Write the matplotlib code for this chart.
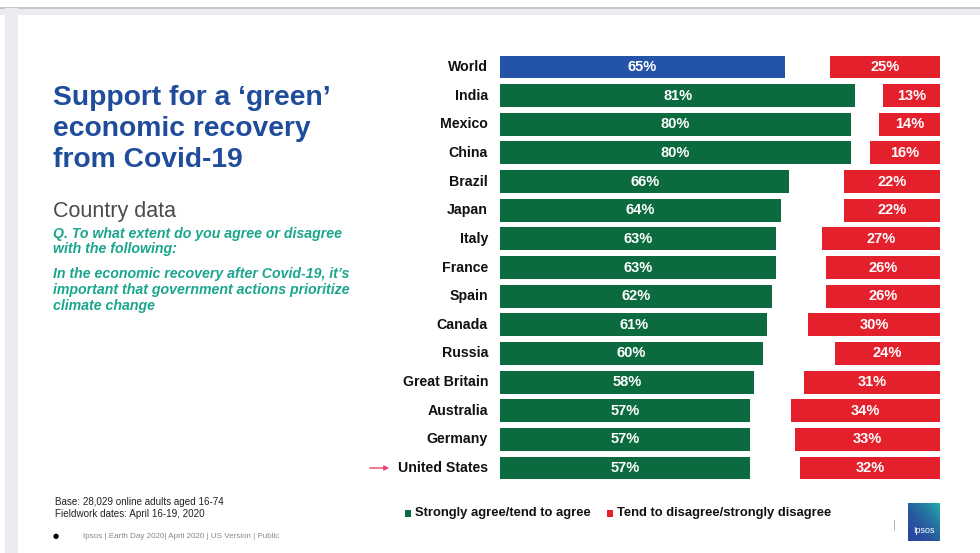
import numpy as np
import matplotlib
matplotlib.use("Agg")
from matplotlib import pyplot as plt
from matplotlib.patches import Rectangle, FancyArrowPatch

countries = ["World", "India", "Mexico", "China", "Brazil", "Japan", "Italy",
             "France", "Spain", "Canada", "Russia", "Great Britain",
             "Australia", "Germany", "United States"]
agree = [65, 81, 80, 80, 66, 64, 63, 63, 62, 61, 60, 58, 57, 57, 57]
disagree = [25, 13, 14, 16, 22, 22, 27, 26, 26, 30, 24, 31, 34, 33, 32]

legend_labels = ["Strongly agree/tend to agree", "Tend to disagree/strongly disagree"]

GREEN = "#0b6b3f"
RED = "#e3202b"
BLUE = "#2454a8"
TITLE_BLUE = "#1f4c9b"
TEAL = "#1aa68c"

W, H = 980, 553
fig = plt.figure(figsize=(W / 100, H / 100), dpi=100)
fig.patch.set_facecolor("white")


def fx(px):
    return px / W


def fy(py):
    return 1 - py / H


# slide frame (screenshot border)
fig.patches.append(Rectangle((0, fy(15)), 1, fy(7) - fy(15), transform=fig.transFigure,
                             fc="#ebebf0", ec="none", zorder=0))
fig.patches.append(Rectangle((0, fy(8.5)), 1, fy(7) - fy(8.5), transform=fig.transFigure,
                             fc="#c8c8cc", ec="none", zorder=0))
fig.patches.append(Rectangle((fx(5), 0), fx(13), fy(8), transform=fig.transFigure,
                             fc="#ebebf0", ec="none", zorder=0))

# bar chart
xmax = 440 / 4.385
row0, rowN = 67, 468
pitch = (rowN - row0) / (len(countries) - 1)
top_px = row0 - pitch / 2
bot_px = rowN + pitch / 2
ax = fig.add_axes([fx(500), fy(bot_px), fx(940) - fx(500), fy(top_px) - fy(bot_px)])
ax.set_xlim(0, xmax)
ax.set_ylim(len(countries) - 0.5, -0.5)
ax.axis("off")

y = np.arange(len(countries))
colors = [BLUE] + [GREEN] * (len(countries) - 1)
ax.barh(y, agree, height=0.8, color=colors, edgecolor="none")
ax.barh(y, disagree, left=[xmax - d for d in disagree], height=0.8, color=RED, edgecolor="none")

for i, (a, d) in enumerate(zip(agree, disagree)):
    ax.text(a / 2, i, f"{a}%", ha="center", va="center", color="white",
            fontsize=10.5, fontweight="bold", family="Liberation Sans")
    ax.text(xmax - d / 2, i, f"{d}%", ha="center", va="center", color="white",
            fontsize=10.5, fontweight="bold", family="Liberation Sans")
    ax.text(-12 / 4.385, i, countries[i], ha="right", va="center", color="#111111",
            fontsize=10.2, fontweight="bold", family="Liberation Sans")

# arrow to United States
fig.patches.append(FancyArrowPatch((fx(367), fy(468)), (fx(392), fy(468)),
                                   transform=fig.transFigure, arrowstyle="-|>",
                                   mutation_scale=7, color="#e8456e", lw=1))

# left text panel
fig.text(fx(53), fy(129), "Support for a \u2018green\u2019\neconomic recovery\nfrom Covid-19",
         ha="left", va="center", color=TITLE_BLUE, fontsize=20.3, fontweight="bold",
         family="Liberation Sans", linespacing=1.23)
fig.text(fx(53), fy(211), "Country data", ha="left", va="center", color="#4a4a4a",
         fontsize=15.5, family="Liberation Sans")
fig.text(fx(53), fy(241.5), "Q. To what extent do you agree or disagree\nwith the following:",
         ha="left", va="center", color=TEAL, fontsize=10.2, fontweight="bold",
         style="italic", family="Liberation Sans", linespacing=1.05)
fig.text(fx(53), fy(290), "In the economic recovery after Covid-19, it\u2019s\n"
         "important that government actions prioritize\nclimate change",
         ha="left", va="center", color=TEAL, fontsize=10.2, fontweight="bold",
         style="italic", family="Liberation Sans", linespacing=1.2)

# footer
fig.text(fx(55), fy(508), "Base: 28,029 online adults aged 16-74\nFieldwork dates: April 16-19, 2020",
         ha="left", va="center", color="#222222", fontsize=7.1, family="Liberation Sans",
         linespacing=1.2)
fig.text(fx(56), fy(536), "\u25cf", ha="center", va="center", color="black", fontsize=5)
fig.text(fx(83), fy(536), "Ipsos | Earth Day 2020| April 2020 | US Version | Public",
         ha="left", va="center", color="#888888", fontsize=5.8, family="Liberation Sans")

# legend
legend_colors = [GREEN, RED]
legend_x = [408, 610]
for lx, lab, c in zip(legend_x, legend_labels, legend_colors):
    fig.patches.append(Rectangle((fx(lx - 3), fy(516.5)), fx(6), fy(510) - fy(516.5),
                                 transform=fig.transFigure, fc=c, ec="none"))
    fig.text(fx(lx + 7), fy(513), lab, ha="left", va="center", color="#111111",
             fontsize=9.4, fontweight="bold", family="Liberation Sans")

# logo
fig.text(fx(894), fy(525), "|", ha="center", va="center", color="#999999", fontsize=7)
grad = np.linspace(0, 1, 64)
gx, gy = np.meshgrid(grad, grad)
t = np.clip((gx + (1 - gy)) / 2, 0, 1)
c0 = np.array([0.16, 0.28, 0.62])
c1 = np.array([0.13, 0.70, 0.66])
img = c0[None, None, :] * (1 - t[..., None] ** 2) + c1[None, None, :] * (t[..., None] ** 2)
lax = fig.add_axes([fx(908), fy(541), fx(32), fy(503) - fy(541)])
lax.imshow(img, aspect="auto", extent=(0, 1, 0, 1), origin="upper")
lax.axis("off")
lax.text(0.5, 0.28, "Ipsos", ha="center", va="center", color="white", fontsize=6.5,
         family="Liberation Sans")

fig.savefig("out.png", dpi=100)
